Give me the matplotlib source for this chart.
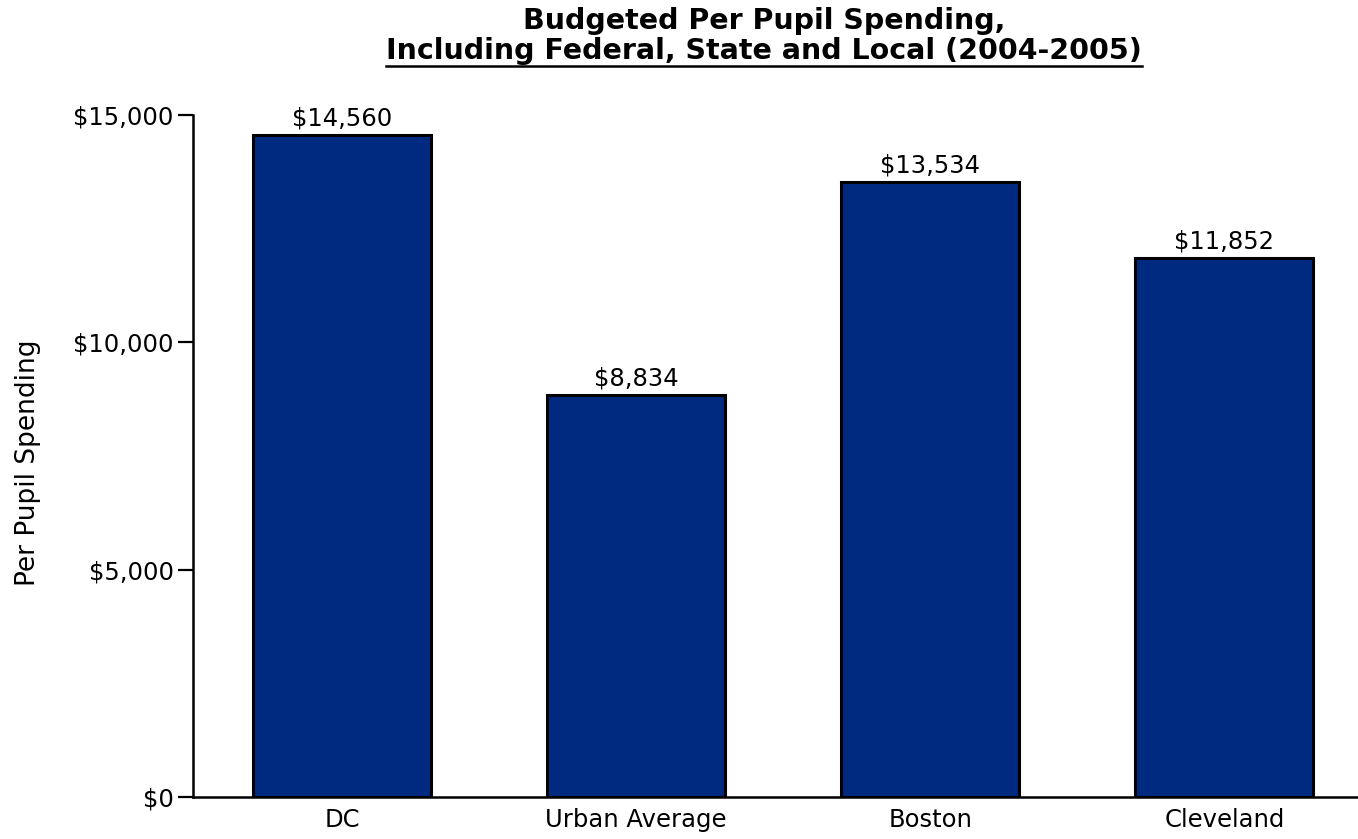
import matplotlib.pyplot as plt
from matplotlib.lines import Line2D
from matplotlib.ticker import FuncFormatter

# Gasto por alumno presupuestado 2004-2005
categorias = ['DC', 'Urban Average', 'Boston', 'Cleveland']
gasto = [14560, 8834, 13534, 11852]
marcas_y = [0, 5000, 10000, 15000]

color_barra = '#002A80'
tam_texto = 17.5

fig = plt.figure(figsize=(13.58, 8.39), dpi=100)
ax = fig.add_axes([0.1421, 0.0501, 0.8579, 0.8128])

posiciones = range(len(categorias))
barras = ax.bar(posiciones, gasto, width=0.605, color=color_barra,
                edgecolor='black', linewidth=2.2)

# Etiquetas de valor encima de cada barra
for barra, valor in zip(barras, gasto):
    ax.text(barra.get_x() + barra.get_width() / 2, valor + 100,
            '${:,}'.format(valor), ha='center', va='bottom', fontsize=tam_texto)

ax.set_xlim(-0.507, 3.454)
ax.set_ylim(0, 15000)
ax.set_xticks(list(posiciones))
ax.set_xticklabels(categorias, fontsize=tam_texto)
ax.set_yticks(marcas_y)
ax.yaxis.set_major_formatter(FuncFormatter(lambda v, p: '${:,.0f}'.format(v)))
ax.tick_params(axis='y', labelsize=tam_texto, length=11, width=1.6, pad=3)
ax.tick_params(axis='x', length=0, pad=8)
ax.set_ylabel('Per Pupil Spending', fontsize=19, va='center')
ax.yaxis.set_label_coords(-0.142, 0.49)

for lado in ['top', 'right']:
    ax.spines[lado].set_visible(False)
for lado in ['left', 'bottom']:
    ax.spines[lado].set_linewidth(1.8)

# Título en dos líneas, la segunda subrayada
x_titulo = 764 / 1358
fig.text(x_titulo, 1 - 21 / 839, 'Budgeted Per Pupil Spending,',
         ha='center', va='center', fontsize=20.5, fontweight='bold')
linea2 = fig.text(x_titulo, 1 - 51 / 839,
                  'Including Federal, State and Local (2004-2005)',
                  ha='center', va='center', fontsize=20.5, fontweight='bold')

fig.canvas.draw()
caja = linea2.get_window_extent(renderer=fig.canvas.get_renderer())
caja = caja.transformed(fig.transFigure.inverted())
y_sub = caja.y0 - 1 / 839
fig.add_artist(Line2D([caja.x0, caja.x1], [y_sub, y_sub],
                      transform=fig.transFigure, color='black', linewidth=1.8))

plt.savefig('out.png', dpi=100)
